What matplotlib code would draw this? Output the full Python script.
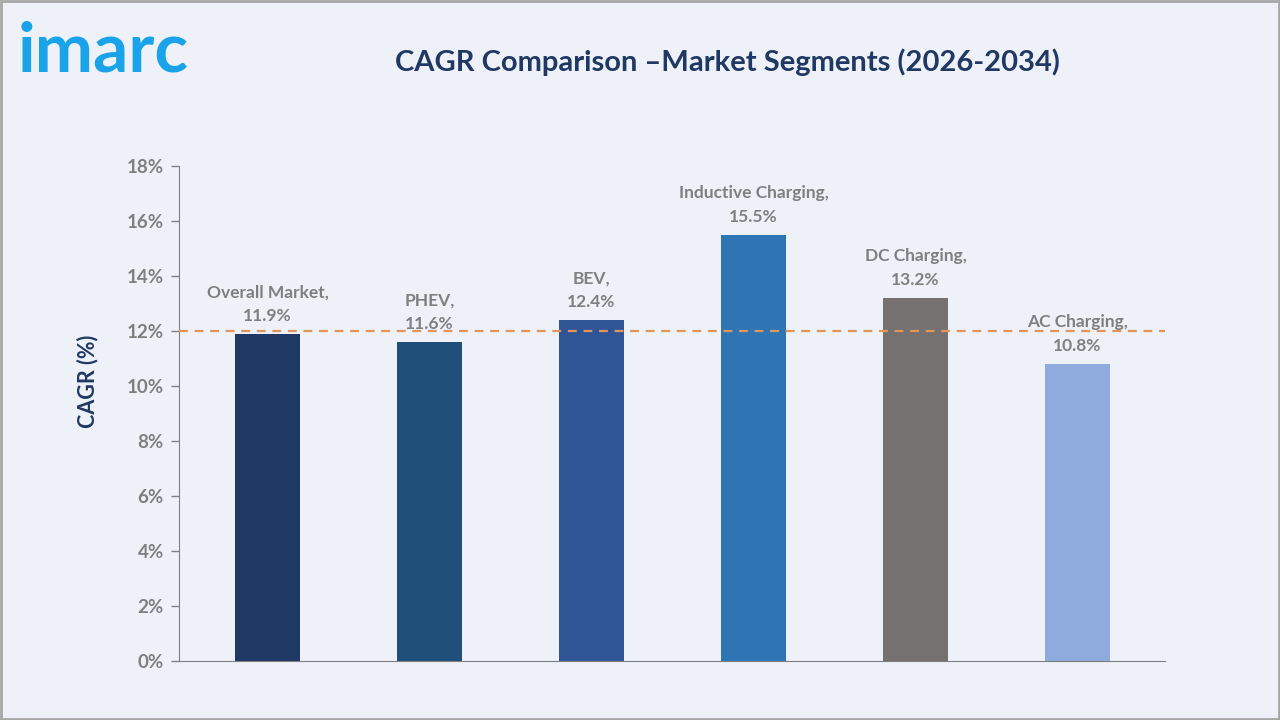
import matplotlib.pyplot as plt
from matplotlib.ticker import FuncFormatter
import matplotlib.patches as patches

categories = ['Overall Market', 'PHEV', 'BEV', 'Inductive Charging', 'DC Charging', 'AC Charging']
cagr = [11.9, 11.6, 12.4, 15.5, 13.2, 10.8]
bar_colors = ['#203864', '#1F4E79', '#2F5597', '#2E75B6', '#767171', '#8FAADC']
reference_line = 12.0
yticks = [0, 2, 4, 6, 8, 10, 12, 14, 16, 18]

plt.rcParams['font.family'] = ['Lato', 'DejaVu Sans']

bg = '#EEF2F8'
fig = plt.figure(figsize=(12.8, 7.2), dpi=100, facecolor=bg)
ax = fig.add_axes([179 / 1280, 1 - 661 / 720, 986 / 1280, (661 - 166) / 720])
ax.set_facecolor(bg)

x = list(range(len(categories)))
ax.bar(x, cagr, width=0.4, color=bar_colors, zorder=2)
ax.axhline(reference_line, color='#E0955A', lw=1.6, ls=(0, (4, 3)), zorder=3)

for xi, name, v in zip(x, categories, cagr):
    ax.annotate(f'{name},\n{v}%', (xi, v), xytext=(0, 7), textcoords='offset points',
                ha='center', va='bottom', fontsize=12.5, fontweight='bold', color='#7F7F7F',
                linespacing=1.6, zorder=4)

ax.set_xlim(-0.546, 5.54)
ax.set_ylim(0, 18)
ax.set_yticks(yticks)
ax.yaxis.set_major_formatter(FuncFormatter(lambda v, p: f'{v:.0f}%'))
ax.set_xticks([])
ax.tick_params(axis='y', colors='#7F7F7F', labelsize=13.5, length=6, width=1, pad=5)
for lab in ax.get_yticklabels():
    lab.set_fontweight('bold')
for s in ['top', 'right']:
    ax.spines[s].set_visible(False)
for s in ['left', 'bottom']:
    ax.spines[s].set_color('#7F7F7F')

fig.text(88 / 1280, 1 - 381 / 720, 'CAGR (%)', rotation=90, ha='center', va='center',
         fontsize=15.5, fontweight='bold', color='#203864')
fig.text(727 / 1280, 1 - 62 / 720, 'CAGR Comparison \u2013Market Segments (2026-2034)',
         ha='center', va='center', fontsize=21, fontweight='bold', color='#203864')
fig.text(18 / 1280, 1 - 52 / 720, 'imarc', ha='left', va='center', fontsize=50,
         fontweight='bold', color='#1AA3E8')

fig.patches.append(patches.Rectangle((0.001, 0.002), 0.998, 0.996, transform=fig.transFigure,
                                     fill=False, edgecolor='#A6A6A6', lw=2))

fig.savefig('out.png', dpi=100, facecolor=bg)
